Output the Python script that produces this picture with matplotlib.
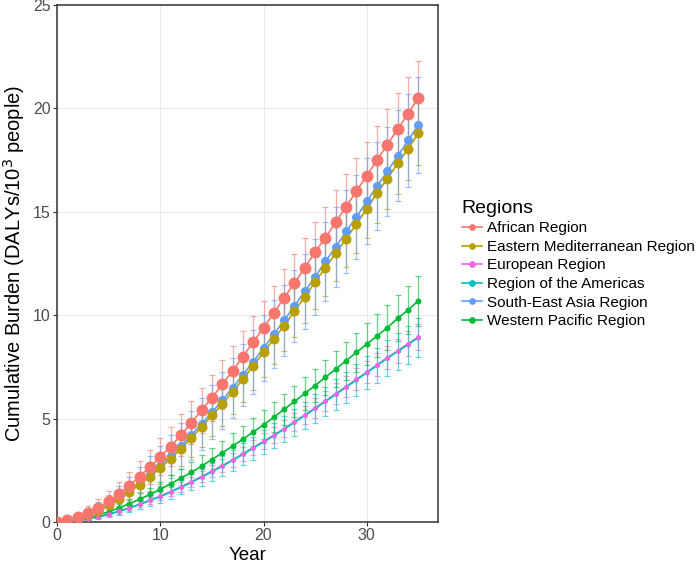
import matplotlib
matplotlib.use('Agg')
import matplotlib.pyplot as plt
import numpy as np

plt.rcParams['font.family'] = ['Liberation Sans', 'DejaVu Sans']

years = list(range(36))

regions = ['African Region', 'Eastern Mediterranean Region', 'European Region',
           'Region of the Americas', 'South-East Asia Region', 'Western Pacific Region']
colors = ['#F8766D', '#B79F00', '#F564E3', '#00BFC4', '#619CFF', '#00BA38']

african = [0, 0.1, 0.25, 0.45, 0.7, 1.0, 1.35, 1.75, 2.2, 2.65, 3.15, 3.65, 4.2, 4.8, 5.4, 6.0,
           6.65, 7.3, 8.0, 8.7, 9.4, 10.1, 10.85, 11.55, 12.3, 13.05, 13.75, 14.5, 15.25, 16.0,
           16.75, 17.5, 18.25, 19.0, 19.75, 20.5]
african_err = [0, 0.1, 0.2, 0.3, 0.4, 0.5, 0.6, 0.68, 0.75, 0.82, 0.9, 0.95, 1.0, 1.05, 1.1, 1.13,
               1.17, 1.2, 1.23, 1.26, 1.3, 1.33, 1.36, 1.4, 1.43, 1.46, 1.5, 1.53, 1.56, 1.6,
               1.63, 1.66, 1.7, 1.73, 1.77, 1.8]

east_med = [0, 0.07, 0.18, 0.35, 0.55, 0.8, 1.1, 1.45, 1.8, 2.2, 2.6, 3.05, 3.55, 4.05, 4.6, 5.15,
            5.7, 6.3, 6.9, 7.55, 8.2, 8.85, 9.5, 10.2, 10.9, 11.6, 12.3, 13.0, 13.7, 14.4,
            15.15, 15.9, 16.6, 17.35, 18.05, 18.8]
east_med_err = [0, 0.06, 0.13, 0.2, 0.28, 0.36, 0.44, 0.52, 0.6, 0.68, 0.75, 0.8, 0.86, 0.91, 0.96, 1.0,
                1.04, 1.08, 1.12, 1.15, 1.18, 1.21, 1.24, 1.27, 1.3, 1.32, 1.35, 1.37, 1.39, 1.41,
                1.43, 1.45, 1.47, 1.49, 1.5, 1.52]

europe = [0, 0.02, 0.07, 0.15, 0.25, 0.38, 0.52, 0.68, 0.86, 1.05, 1.25, 1.47, 1.7, 1.94, 2.2, 2.46,
          2.73, 3.0, 3.3, 3.6, 3.9, 4.2, 4.52, 4.85, 5.18, 5.52, 5.86, 6.2, 6.55, 6.9,
          7.25, 7.6, 7.95, 8.28, 8.62, 8.95]
europe_err = [0, 0.01, 0.03, 0.05, 0.07, 0.09, 0.11, 0.13, 0.15, 0.17, 0.19, 0.21, 0.23, 0.25, 0.27, 0.29,
              0.31, 0.33, 0.35, 0.37, 0.39, 0.4, 0.41, 0.43, 0.45, 0.47, 0.48, 0.5, 0.51, 0.53,
              0.54, 0.56, 0.57, 0.58, 0.6, 0.61]

americas = [0, 0.02, 0.07, 0.14, 0.24, 0.37, 0.51, 0.67, 0.85, 1.04, 1.23, 1.45, 1.68, 1.92, 2.17, 2.43,
            2.7, 2.98, 3.27, 3.57, 3.87, 4.17, 4.49, 4.82, 5.15, 5.49, 5.83, 6.17, 6.52, 6.87,
            7.22, 7.57, 7.92, 8.25, 8.58, 8.92]
americas_err = [0, 0.02, 0.05, 0.08, 0.11, 0.14, 0.17, 0.2, 0.23, 0.26, 0.29, 0.32, 0.35, 0.38, 0.41, 0.44,
                0.47, 0.5, 0.53, 0.56, 0.59, 0.61, 0.63, 0.65, 0.67, 0.69, 0.71, 0.73, 0.75, 0.77,
                0.8, 0.83, 0.86, 0.89, 0.92, 0.95]

se_asia = [0, 0.08, 0.2, 0.38, 0.6, 0.85, 1.15, 1.5, 1.9, 2.3, 2.72, 3.18, 3.68, 4.2, 4.75, 5.3,
           5.88, 6.48, 7.1, 7.75, 8.4, 9.08, 9.75, 10.45, 11.15, 11.85, 12.6, 13.3, 14.05, 14.75,
           15.5, 16.25, 16.95, 17.7, 18.45, 19.2]
se_asia_err = [0, 0.08, 0.17, 0.27, 0.37, 0.47, 0.57, 0.67, 0.77, 0.87, 0.96, 1.04, 1.11, 1.18, 1.25, 1.31,
               1.37, 1.43, 1.49, 1.55, 1.6, 1.65, 1.7, 1.75, 1.8, 1.85, 1.9, 1.95, 2.0, 2.04,
               2.08, 2.12, 2.16, 2.2, 2.25, 2.3]

w_pacific = [0, 0.03, 0.1, 0.2, 0.33, 0.5, 0.68, 0.88, 1.1, 1.33, 1.58, 1.85, 2.12, 2.4, 2.7, 3.02,
             3.34, 3.67, 4.0, 4.35, 4.7, 5.07, 5.45, 5.83, 6.22, 6.6, 7.0, 7.4, 7.8, 8.2,
             8.6, 9.0, 9.4, 9.85, 10.25, 10.7]
w_pacific_err = [0, 0.02, 0.05, 0.09, 0.13, 0.17, 0.21, 0.25, 0.29, 0.33, 0.37, 0.41, 0.45, 0.49, 0.52, 0.55,
                 0.58, 0.61, 0.64, 0.67, 0.7, 0.72, 0.74, 0.76, 0.78, 0.8, 0.84, 0.88, 0.92, 0.96,
                 1.0, 1.04, 1.08, 1.12, 1.16, 1.2]

values = [african, east_med, europe, americas, se_asia, w_pacific]
errors = [african_err, east_med_err, europe_err, americas_err, se_asia_err, w_pacific_err]
msizes = [8.6, 7.2, 3.6, 3.0, 6.5, 4.3]

fig = plt.figure(figsize=(6.98, 5.65), dpi=100)
ax = fig.add_axes([57 / 698, 43 / 565, 381 / 698, 517 / 565])

# error bars first
for v, e, c in zip(values, errors, colors):
    ax.errorbar(years, v, yerr=e, fmt='none', ecolor=c, elinewidth=0.9, capsize=2.2,
                capthick=0.9, alpha=0.6, zorder=2)
# lines in factor order
for v, c in zip(values, colors):
    ax.plot(years, v, color=c, lw=1.2, zorder=3)
# points in reverse order
for v, c, ms in reversed(list(zip(values, colors, msizes))):
    ax.plot(years, v, 'o', color=c, ms=ms, mew=0, zorder=4)

ax.set_xlim(0, 36.9)
ax.set_ylim(0, 25)
ax.set_xticks([0, 10, 20, 30])
ax.set_yticks([0, 5, 10, 15, 20, 25])
ax.grid(True, color='#EBEBEB', lw=0.8, zorder=0)
ax.set_axisbelow(True)
for s in ax.spines.values():
    s.set_color('#333333')
    s.set_linewidth(1.1)
ax.tick_params(colors='#333333', labelcolor='#4D4D4D', labelsize=11.5, length=3, width=0.8, pad=1.5)

ax.set_xlabel('Year', fontsize=13.5, labelpad=0)
ax.xaxis.set_label_coords(0.5, -0.0474)
ax.set_ylabel('Cumulative Burden (DALYs/10$^3$ people)', fontsize=14.5, labelpad=4)

handles = [plt.Line2D([], [], color=c, marker='o', ms=3.8, lw=1.2) for c in colors]
leg = fig.legend(handles, regions, title='Regions', loc='center left',
                 bbox_to_anchor=(454 / 698, 1 - 264 / 565), frameon=False,
                 fontsize=11, title_fontsize=14, handlelength=1.3, handletextpad=0.35,
                 labelspacing=0.3, borderpad=0)
leg._legend_box.align = 'left'

fig.savefig('out.png', dpi=100)
